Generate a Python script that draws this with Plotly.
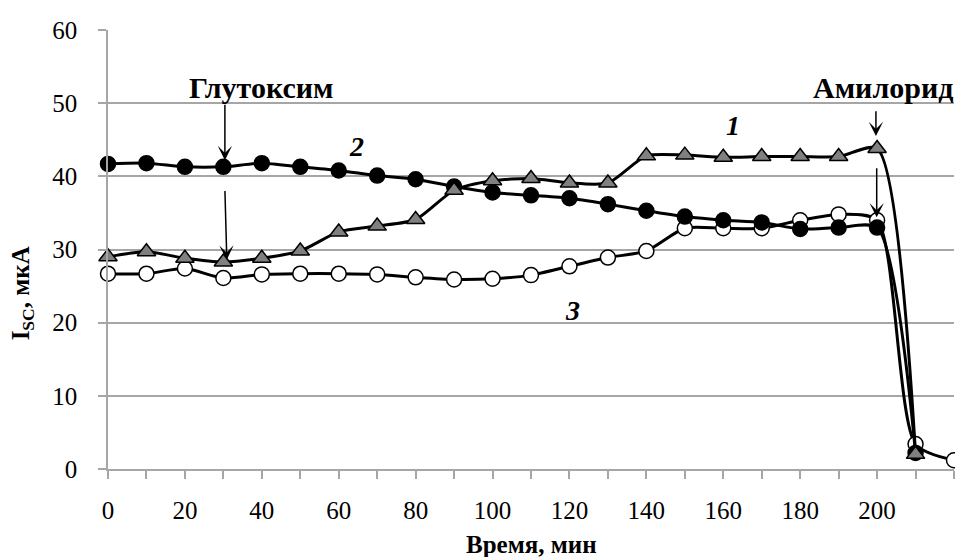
import plotly.graph_objects as go

# Time, min
time_1 = [0, 10, 20, 30, 40, 50, 60, 70, 80, 90, 100, 110, 120, 130, 140, 150, 160, 170, 180, 190, 200, 210]
time_2 = [0, 10, 20, 30, 40, 50, 60, 70, 80, 90, 100, 110, 120, 130, 140, 150, 160, 170, 180, 190, 200, 210]
time_3 = [0, 10, 20, 30, 40, 50, 60, 70, 80, 90, 100, 110, 120, 130, 140, 150, 160, 170, 180, 190, 200, 210, 220]

# I_SC, uA
curve_1 = [29.0, 29.7, 28.8, 28.3, 28.8, 29.8, 32.4, 33.2, 34.1, 38.1, 39.4, 39.7, 39.1, 39.1, 42.8, 42.9, 42.6, 42.7, 42.7, 42.7, 43.8, 2.0]
curve_2 = [41.7, 41.8, 41.3, 41.3, 41.8, 41.3, 40.8, 40.1, 39.6, 38.6, 37.8, 37.4, 37.0, 36.2, 35.3, 34.5, 34.0, 33.7, 32.8, 33.0, 33.0, 2.2]
curve_3 = [26.7, 26.7, 27.4, 26.1, 26.6, 26.7, 26.7, 26.6, 26.2, 25.9, 26.0, 26.5, 27.7, 28.9, 29.8, 32.9, 32.9, 32.9, 34.0, 34.8, 34.0, 3.4, 1.2]

x_ticks = [0, 20, 40, 60, 80, 100, 120, 140, 160, 180, 200]
y_ticks = [0, 10, 20, 30, 40, 50, 60]

FONT = "Liberation Serif, Times New Roman, Tinos, DejaVu Serif, serif"
GRID = "#a6a6a6"

fig = go.Figure()

common_line = dict(color="black", width=3, shape="spline", smoothing=0.7)

fig.add_trace(go.Scatter(
    x=time_3, y=curve_3, mode="lines+markers", name="3",
    line=common_line,
    marker=dict(symbol="circle", size=15, color="white", line=dict(color="black", width=1.5)),
    cliponaxis=False,
))
fig.add_trace(go.Scatter(
    x=time_2, y=curve_2, mode="lines+markers", name="2",
    line=common_line,
    marker=dict(symbol="circle", size=15, color="black", line=dict(color="black", width=1.5)),
    cliponaxis=False,
))
fig.add_trace(go.Scatter(
    x=time_1, y=curve_1, mode="lines+markers", name="1",
    line=common_line,
    marker=dict(symbol="triangle-up", size=16, color="#808080", line=dict(color="black", width=1.5)),
    cliponaxis=False,
))

annotations = []

def txt(x, y, text, size, **kw):
    annotations.append(dict(x=x, y=y, xref="x", yref="y", text=text, showarrow=False,
                            xanchor="center", yanchor="middle",
                            font=dict(family=FONT, size=size, color="black"), **kw))

txt(39.7, 52.2, "<b>Глутоксим</b>", 30)
txt(201.6, 52.2, "<b>Амилорид</b>", 30)
txt(162.5, 46.9, "<b><i>1</i></b>", 28)
txt(64.5, 44.1, "<b><i>2</i></b>", 28)
txt(120.7, 21.7, "<b><i>3</i></b>", 28)

def arrow(x_tail, y_tail, x_tip, y_tip):
    annotations.append(dict(x=x_tip, y=y_tip, ax=x_tail, ay=y_tail, xref="x", yref="y",
                            axref="x", ayref="y", text="", showarrow=True,
                            arrowhead=3, arrowsize=1.6, arrowwidth=1.5, arrowcolor="black",
                            standoff=0, startstandoff=0))

arrow(30.4, 50.0, 30.4, 42.2)
arrow(30.4, 38.2, 30.9, 28.6)
arrow(199.7, 49.1, 199.7, 45.5)
arrow(199.9, 41.3, 199.9, 34.4)

annotations.append(dict(x=-0.1017, y=0.40, xref="paper", yref="paper",
                        xanchor="center", yanchor="middle",
                        text="<b>I<sub>SC</sub>, мкА</b>", textangle=-90, showarrow=False,
                        font=dict(family=FONT, size=25, color="black")))
annotations.append(dict(x=0.5, y=-0.171, xref="paper", yref="paper",
                        xanchor="center", yanchor="middle", borderpad=0,
                        text="<b>Время, мин</b>", showarrow=False,
                        font=dict(family=FONT, size=25, color="black")))

# The page body has an 8px default margin; figure size/margins compensate so the
# plot area lands at x 108..954, y 24..461 in the 963x557 window.
fig.update_layout(
    width=955, height=549,
    margin=dict(l=100, r=9, t=16, b=88),
    plot_bgcolor="white", paper_bgcolor="white",
    showlegend=False,
    font=dict(family=FONT, size=25, color="black"),
    annotations=annotations,
    xaxis=dict(
        range=[0, 220], tickvals=x_ticks, showgrid=False, zeroline=False,
        showline=True, linecolor=GRID, linewidth=1.5,
        ticks="outside", ticklen=8, tickcolor=GRID, tickwidth=1.5,
        minor=dict(dtick=10, tick0=0, ticks="outside", ticklen=8, tickcolor=GRID, tickwidth=1.5, showgrid=False),
        ticklabelstandoff=10,
        tickfont=dict(family=FONT, size=25, color="black"),
    ),
    yaxis=dict(
        range=[0, 60], tickvals=y_ticks, showgrid=True, gridcolor=GRID, gridwidth=1.5,
        zeroline=False, showline=True, linecolor=GRID, linewidth=1.5,
        ticks="outside", ticklen=8, tickcolor=GRID, tickwidth=1.5,
        ticklabelstandoff=16,
        tickfont=dict(family=FONT, size=25, color="black"),
    ),
)

fig.write_html("out.html")
